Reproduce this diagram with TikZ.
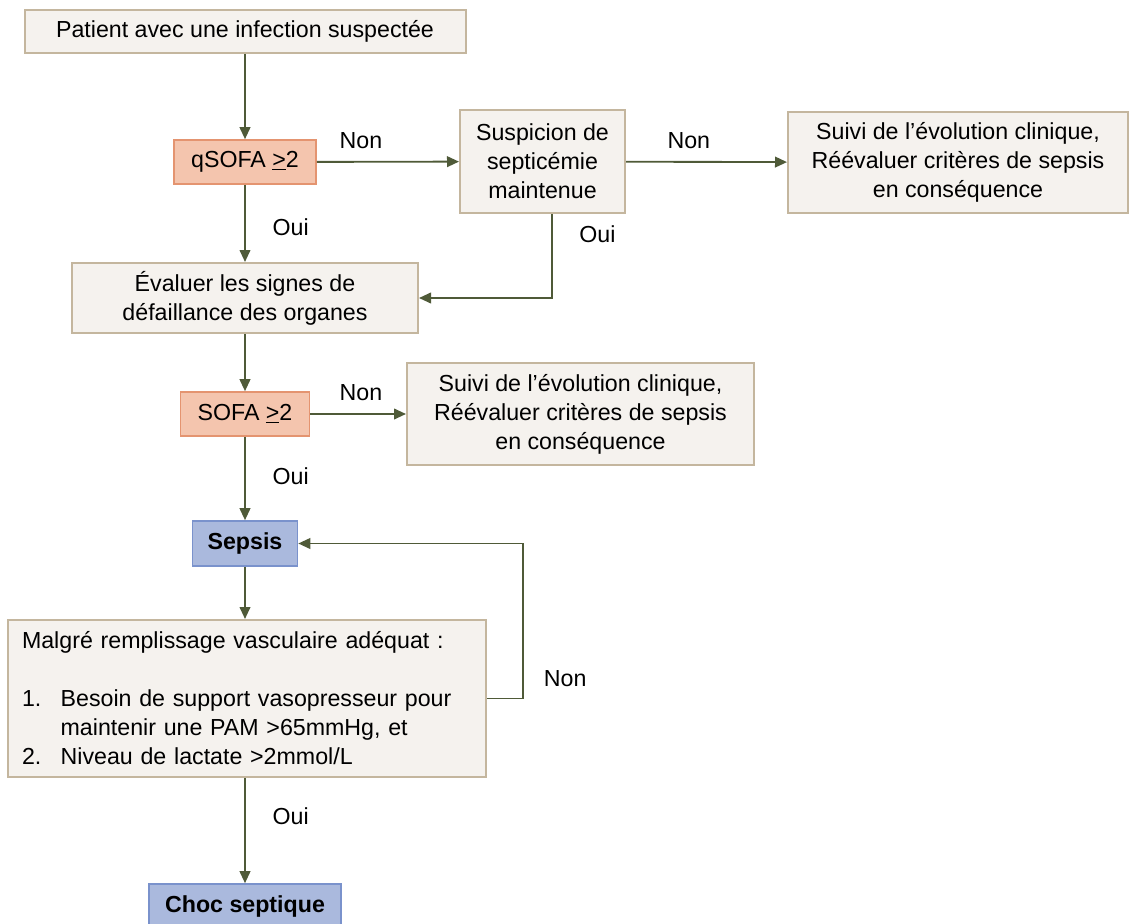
\documentclass[tikz,border=0pt]{standalone}
\usepackage{fontspec}
\setmainfont{Liberation Sans}
\usetikzlibrary{arrows.meta}
\definecolor{Fond}{RGB}{245, 242, 238}
\definecolor{Bord}{RGB}{196, 182, 158}
\definecolor{SalF}{RGB}{244, 197, 174}
\definecolor{SalB}{RGB}{228, 148, 112}
\definecolor{BleuF}{RGB}{170, 185, 221}
\definecolor{BleuB}{RGB}{122, 146, 204}
\definecolor{Fl}{RGB}{79, 90, 56}

\begin{document}
\begin{tikzpicture}[x=0.75pt, y=-0.75pt,
    every node/.style={font=\fontsize{17.4}{21.75}\selectfont},
    boite/.style={draw=Bord, fill=Fond, line width=1.5pt, inner sep=0pt, align=center},
    critere/.style={draw=SalB, fill=SalF, line width=1.2pt, inner sep=0pt, align=center},
    etat/.style={draw=BleuB, fill=BleuF, line width=1.2pt, inner sep=0pt, align=center, font=\fontsize{17.4}{21.75}\selectfont\bfseries},
    fleche/.style={draw=Fl, line width=1.4pt, -{Triangle[length=9pt, width=8pt]}},
    etiq/.style={inner sep=0pt}]
    \useasboundingbox (0,0) rectangle (1129,924);

    % Premiere ligne
    \node (patient) [boite, minimum width=330.75pt, minimum height=32.25pt] at (245,31.5)
        {Patient avec une infection suspectée};
    \node (qsofa) [critere, minimum width=106.5pt, minimum height=33pt] at (245,162)
        {qSOFA \underline{>}2};
    \node (suspicion) [boite, minimum width=123.75pt, minimum height=77.25pt] at (542.5,161.5)
        {Suspicion de\\septicémie\\maintenue};
    \node (suivia) [boite, minimum width=255pt, minimum height=75.75pt] at (958,162.5)
        {Suivi de l’évolution  clinique,\\Réévaluer critères de sepsis\\en conséquence};

    % Defaillance des organes
    \node (evaluer) [boite, minimum width=259.5pt, minimum height=52.5pt] at (245,298)
        {Évaluer les signes de\\défaillance des organes};
    \node (sofa) [critere, minimum width=96.75pt, minimum height=33pt] at (245,414)
        {SOFA \underline{>}2};
    \node (suivib) [boite, minimum width=260.25pt, minimum height=76.5pt] at (580.5,414)
        {Suivi de l’évolution  clinique,\\Réévaluer critères de sepsis\\en conséquence};

    % Sepsis et choc
    \node (sepsis) [etat, minimum width=78.75pt, minimum height=33.75pt] at (245,543.5) {Sepsis};
    \node (malgre) [boite, align=left, text width=337.5pt, inner xsep=10.5pt, minimum height=117.75pt] at (247,698.5)
        {Malgré remplissage vasculaire adéquat :\\[21.75pt]
         \makebox[29pt][l]{1.}Besoin de support vasopresseur pour\\
         \hspace*{29pt}maintenir une PAM >65mmHg, et\\
         \makebox[29pt][l]{2.}Niveau de lactate >2mmol/L};
    \node (choc) [etat, minimum width=144pt, minimum height=33pt] at (245,906) {Choc septique};

    % Fleches
    \draw[fleche] (patient) -- (qsofa);
    \draw[fleche] (qsofa) -- node[etiq, pos=0.31, above=9pt] {Non} (suspicion);
    \draw[fleche] (suspicion) -- node[etiq, pos=0.39, above=9pt] {Non} (suivia);
    \draw[fleche] (qsofa) -- node[etiq, pos=0.55, right=20pt] {Oui} (evaluer);
    \draw[fleche] ([xshift=7pt]suspicion.south) -- ++(0,20) node[etiq, right=20pt] {Oui}
        |- (evaluer.east);
    \draw[fleche] (evaluer) -- (sofa);
    \draw[fleche] (sofa) -- node[etiq, pos=0.53, above=9pt] {Non} (suivib);
    \draw[fleche] (sofa) -- node[etiq, pos=0.47, right=20pt] {Oui} (sepsis);
    \draw[fleche] (sepsis) -- (sepsis |- malgre.north);
    % boucle Non vers Sepsis
    \draw[fleche] (malgre.east) -- ++(36,0) node[etiq, anchor=south west, xshift=15pt, yshift=8pt] {Non}
        |- (sepsis.east);
    \draw[fleche] (malgre.south -| choc) -- node[etiq, pos=0.36, right=20pt] {Oui} (choc);
\end{tikzpicture}
\end{document}
